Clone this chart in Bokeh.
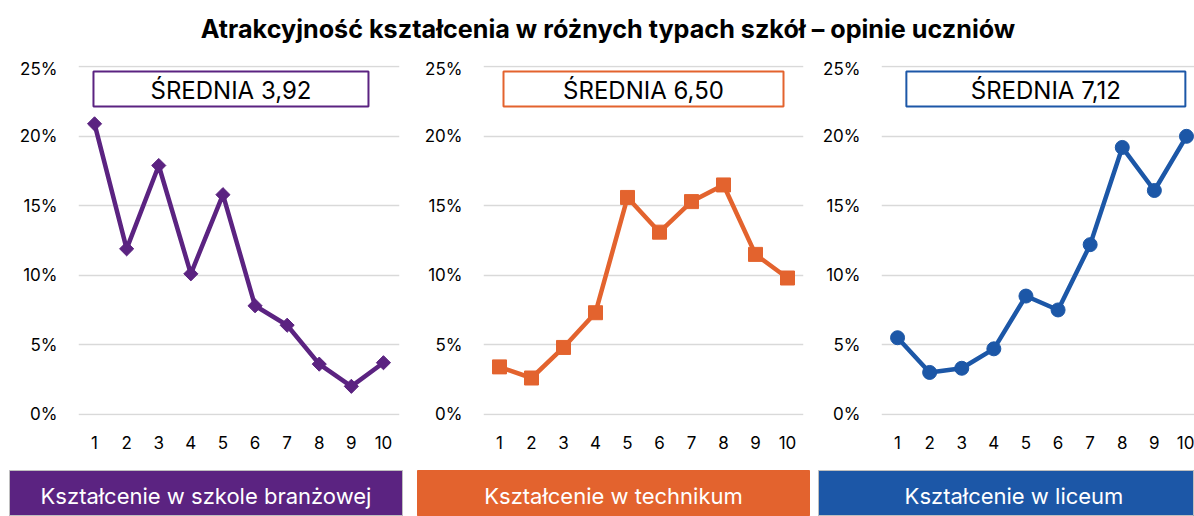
import math
from bokeh.plotting import figure
from bokeh.layouts import column, row
from bokeh.models import Range1d, FixedTicker, NumeralTickFormatter
from bokeh.core.properties import value
from bokeh.embed import file_html
from bokeh.resources import INLINE

# ---------------- data ----------------
title_text = "Atrakcyjność kształcenia w różnych typach szkół – opinie uczniów"
ratings = [1, 2, 3, 4, 5, 6, 7, 8, 9, 10]
branzowa = [0.209, 0.119, 0.179, 0.101, 0.158, 0.078, 0.064, 0.036, 0.020, 0.037]
technikum = [0.034, 0.026, 0.048, 0.073, 0.156, 0.131, 0.153, 0.165, 0.115, 0.098]
liceum = [0.055, 0.030, 0.033, 0.047, 0.085, 0.075, 0.122, 0.192, 0.161, 0.200]
means = ["3,92", "6,50", "7,12"]
school_labels = ["Kształcenie w szkole branżowej", "Kształcenie w technikum", "Kształcenie w liceum"]
y_ticks = [0, 0.05, 0.10, 0.15, 0.20, 0.25]

# ---------------- styles ----------------
PURPLE = "#5b2381"
ORANGE = "#e3632e"
BLUE = "#1c57a7"
FONT = "Inter"
GRID = "#d9d9d9"

series = [branzowa, technikum, liceum]
colors = [PURPLE, ORANGE, BLUE]
markers = [("square", math.pi / 4, 10), ("square", 0.0, 14), ("circle", 0.0, 14)]
# layout: figure width, left border, right border, x-range end, mean-box centre (data x), box width px
chart_layout = [
    (410, 78, 11, 10.5, 5.25, 275),
    (400, 73, 7, 10.5, 5.5, 280),
    (384, 71, 0, 10.25, 5.62, 279),
]
label_layout = [  # width, left border, right border, x-range end, outline
    (410, 9, 8, 1.0, "#bfbfbf"),
    (400, 7, 1, 1.0, ORANGE),
    (384, 8, 0, 376 / 391, "#bfbfbf"),
]

title_fig = figure(width=1194, height=58, x_range=Range1d(0, 1194), y_range=Range1d(0, 58),
                   x_axis_location=None, y_axis_location=None, toolbar_location=None,
                   output_backend="svg", min_border=0, outline_line_color=None)
title_fig.grid.visible = False
title_fig.text(x=[607.5], y=[29.6], text=[title_text], text_align="center",
               text_baseline="middle", text_font=value(FONT), text_font_style="bold",
               text_font_size="25.2px", text_color="#000000")

charts = []
for vals, col, mk, lay, m in zip(series, colors, markers, chart_layout, means):
    w, bl, br, xend, bcx, bw = lay
    p = figure(width=w, height=404, x_range=Range1d(0.5, xend), y_range=Range1d(-0.001, 0.251),
               toolbar_location=None, output_backend="svg",
               min_border_left=bl, min_border_right=br, min_border_top=7, min_border_bottom=47,
               outline_line_color=None)
    p.xgrid.visible = False
    p.ygrid.ticker = FixedTicker(ticks=y_ticks)
    p.ygrid.grid_line_color = GRID
    p.ygrid.grid_line_width = 1.5
    for ax in (p.xaxis, p.yaxis):
        ax.axis_line_color = None
        ax.major_tick_line_color = None
        ax.minor_tick_line_color = None
        ax.major_tick_in = 0
        ax.major_tick_out = 0
        ax.major_label_text_font = FONT
        ax.major_label_text_font_size = "17px"
        ax.major_label_text_color = "#000000"
    p.xaxis.ticker = FixedTicker(ticks=ratings)
    p.xaxis.major_label_standoff = 20
    p.yaxis.ticker = FixedTicker(ticks=y_ticks)
    p.yaxis.formatter = NumeralTickFormatter(format="0%")
    p.yaxis.major_label_standoff = 21

    p.line(ratings, vals, line_color=col, line_width=4.5, line_join="round")
    p.scatter(ratings, vals, marker=mk[0], angle=mk[1], size=mk[2],
              fill_color=col, line_color=col, line_width=1)

    p.rect(x=[bcx], y=[0.2341], width=[bw], height=[35], width_units="screen",
           height_units="screen", fill_color="white", line_color=col, line_width=2)
    p.text(x=[bcx], y=[0.233], text=["ŚREDNIA " + m], text_align="center",
           text_baseline="middle", text_font=value(FONT), text_font_size="24px",
           text_color="#000000")
    charts.append(p)

labels = []
for lab, col, lay in zip(school_labels, colors, label_layout):
    w, bl, br, xend, oc = lay
    l = figure(width=w, height=54, x_range=Range1d(0, xend), y_range=Range1d(0, 1),
               x_axis_location=None, y_axis_location=None, toolbar_location=None,
               output_backend="svg", min_border_left=bl, min_border_right=br,
               min_border_top=8, min_border_bottom=0, background_fill_color=col,
               outline_line_color=oc, outline_line_width=1)
    l.grid.visible = False
    l.text(x=[0.5], y=[0.446], text=[lab], text_align="center", text_baseline="middle",
           text_font=value(FONT), text_font_size="22px", text_color="#ffffff")
    labels.append(l)

layout = column(title_fig, row(*charts), row(*labels))
open("out.html", "w").write(file_html(layout, INLINE))
